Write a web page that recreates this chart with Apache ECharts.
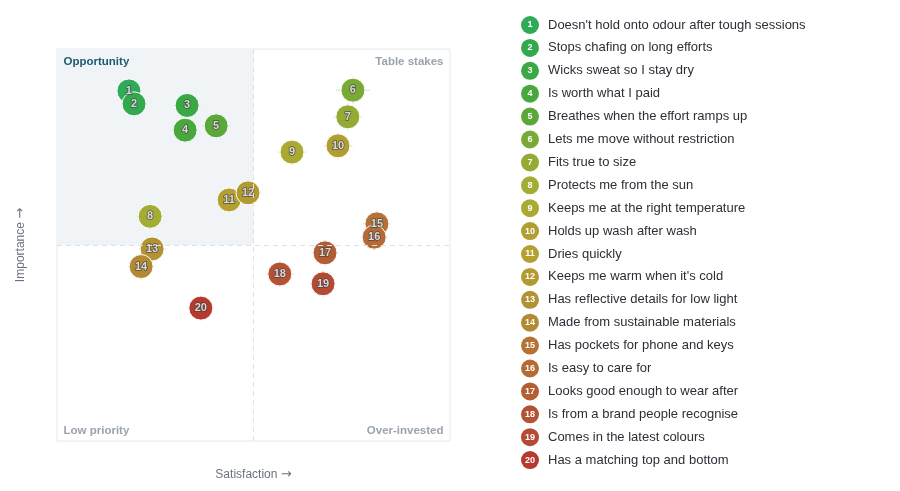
<!DOCTYPE html>
<html>
<head>
<meta charset="utf-8">
<script src="https://cdn.jsdelivr.net/npm/echarts@6/dist/echarts.min.js"></script>
<style>
  html, body { margin: 0; padding: 0; background: #fff; }
  #main { width: 900px; height: 491px; }
</style>
</head>
<body>
<div id="main"></div>
<script>
// attributes, in rank order
var attributes = [
  "Doesn't hold onto odour after tough sessions",
  'Stops chafing on long efforts',
  'Wicks sweat so I stay dry',
  'Is worth what I paid',
  'Breathes when the effort ramps up',
  'Lets me move without restriction',
  'Fits true to size',
  'Protects me from the sun',
  'Keeps me at the right temperature',
  'Holds up wash after wash',
  'Dries quickly',
  "Keeps me warm when it's cold",
  'Has reflective details for low light',
  'Made from sustainable materials',
  'Has pockets for phone and keys',
  'Is easy to care for',
  'Looks good enough to wear after',
  'Is from a brand people recognise',
  'Comes in the latest colours',
  'Has a matching top and bottom'
];
// satisfaction (x) and importance (y), 0-100
var satisfaction = [18.3, 19.6, 33.1, 32.6, 40.5, 75.3, 74.0, 23.7, 59.8, 71.5,
                    43.8, 48.6, 24.2, 21.4, 81.4, 80.7, 68.2, 56.7, 67.7, 36.6];
var importance   = [89.3, 86.0, 85.6, 79.3, 80.4, 89.5, 82.7, 57.3, 73.7, 75.3,
                    61.5, 63.3, 49.0, 44.5, 55.4, 52.0, 48.0, 42.6, 40.1, 33.9];
// uncertainty half-widths
var satErr = [3.3, 3.3, 3.4, 3.4, 3.5, 4.4, 3.6, 3.4, 3.6, 3.7,
              3.4, 3.4, 3.4, 3.4, 3.5, 3.5, 3.5, 3.4, 3.4, 3.3];
var impErr = [3.3, 3.3, 3.3, 3.3, 3.3, 3.4, 3.4, 3.3, 3.3, 3.4,
              3.3, 3.3, 3.4, 3.4, 3.4, 3.4, 3.4, 3.4, 3.4, 3.3];
var colors = ['#2faa58', '#33a94e', '#3aa845', '#49a83d', '#5aa73a', '#78aa35', '#93aa34',
              '#a3ad34', '#aaaa32', '#b09e30', '#b3a030', '#b39a30', '#b39233', '#b38a33',
              '#b57234', '#b56a35', '#b35d32', '#b55234', '#b44a33', '#b43a30'];
var midX = 50, midY = 50;
var quadrants = ['Opportunity', 'Table stakes', 'Low priority', 'Over-invested'];

var FONT = 'Liberation Sans, Helvetica, Arial, sans-serif';
var chart = echarts.init(document.getElementById('main'));

var rich = {
  t: { fontSize: 13, color: '#2b2f36', align: 'center', padding: [0, 0, 0, 9], fontFamily: FONT }
};
attributes.forEach(function (a, i) {
  rich['n' + i] = {
    width: 18, height: 18, lineHeight: 18, borderRadius: 9, align: 'center',
    backgroundColor: colors[i], color: '#fff', fontSize: 9, fontWeight: 'bold',
    fontFamily: FONT
  };
});

var nameRich = {
  a: { color: '#6b7280', fontSize: 12, fontFamily: FONT },
  b: { color: '#6b7280', fontSize: 13, fontFamily: 'DejaVu Sans' }
};

var qLabel = function (text, pos, color, dist, dx) {
  return {
    show: true, position: pos, formatter: text, color: color,
    fontSize: 11.5, fontWeight: 'bold', distance: dist, offset: [dx, 0],
    fontFamily: FONT
  };
};

var series = [{
  type: 'custom',
  silent: true,
  z: 1,
  data: satisfaction.map(function (x, i) { return [x, importance[i], satErr[i], impErr[i]]; }),
  renderItem: function (params, api) {
    var x = api.value(0), y = api.value(1), ex = api.value(2), ey = api.value(3);
    var l = api.coord([x - ex, y]), r = api.coord([x + ex, y]);
    var t = api.coord([x, y + ey]), b = api.coord([x, y - ey]);
    var st = { stroke: '#e4e6e9', lineWidth: 1.5 };
    return { type: 'group', children: [
      { type: 'line', shape: { x1: l[0], y1: l[1], x2: r[0], y2: r[1] }, style: st },
      { type: 'line', shape: { x1: t[0], y1: t[1], x2: b[0], y2: b[1] }, style: st }
    ] };
  },
  markArea: {
    silent: true,
    data: [
      [{ xAxis: 0, yAxis: midY, itemStyle: { color: '#f1f4f6' }, label: qLabel(quadrants[0], 'insideTopLeft', '#1d5b70', 6.5, 0) },
       { xAxis: midX, yAxis: 100 }],
      [{ xAxis: midX, yAxis: midY, itemStyle: { color: 'rgba(0,0,0,0)' }, label: qLabel(quadrants[1], 'insideTopRight', '#9ba3ad', 6.5, 0) },
       { xAxis: 100, yAxis: 100 }],
      [{ xAxis: 0, yAxis: 0, itemStyle: { color: 'rgba(0,0,0,0)' }, label: qLabel(quadrants[2], 'insideBottomLeft', '#9ba3ad', 4.5, 2) },
       { xAxis: midX, yAxis: midY }],
      [{ xAxis: midX, yAxis: 0, itemStyle: { color: 'rgba(0,0,0,0)' }, label: qLabel(quadrants[3], 'insideBottomRight', '#9ba3ad', 4.5, -2) },
       { xAxis: 100, yAxis: midY }]
    ]
  },
  markLine: {
    silent: true, symbol: 'none', label: { show: false },
    lineStyle: { color: '#dde0e4', type: [5, 4], width: 1 },
    data: [{ xAxis: midX }, { yAxis: midY }]
  }
}];

attributes.forEach(function (name, i) {
  series.push({
    type: 'scatter',
    name: name,
    z: 3,
    symbolSize: 24,
    data: [[satisfaction[i], importance[i]]],
    itemStyle: { color: colors[i], borderColor: '#fff', borderWidth: 1, opacity: 1 },
    label: {
      show: true, position: 'inside', formatter: String(i + 1),
      fontSize: 11, fontWeight: 'bold', color: '#d9d9d9',
      textBorderColor: 'rgba(60,60,60,0.75)', textBorderWidth: 1.5,
      fontFamily: FONT
    },
    emphasis: { disabled: true }
  });
});

chart.setOption({
  animation: false,
  grid: { left: 57, top: 49, width: 393, height: 392, show: true, borderColor: '#e6e8eb', borderWidth: 1 },
  xAxis: {
    type: 'value', min: 0, max: 100,
    name: '{a|Satisfaction }{b|→}', nameLocation: 'middle', nameGap: 27,
    nameTextStyle: { rich: nameRich },
    axisLine: { show: false }, axisTick: { show: false }, axisLabel: { show: false }, splitLine: { show: false }
  },
  yAxis: {
    type: 'value', min: 0, max: 100,
    name: '{a|Importance }{b|→}', nameLocation: 'middle', nameGap: 30,
    nameTextStyle: { rich: nameRich },
    axisLine: { show: false }, axisTick: { show: false }, axisLabel: { show: false }, splitLine: { show: false }
  },
  legend: {
    orient: 'vertical', left: 510, top: 11,
    itemWidth: 0, itemHeight: 18, itemGap: 4.9,
    icon: 'circle', selectedMode: false,
    data: attributes,
    formatter: function (name) {
      var i = attributes.indexOf(name);
      return '{n' + i + '|' + (i + 1) + '}{t|' + name + '}';
    },
    textStyle: { rich: rich }
  },
  series: series
});
</script>
</body>
</html>
